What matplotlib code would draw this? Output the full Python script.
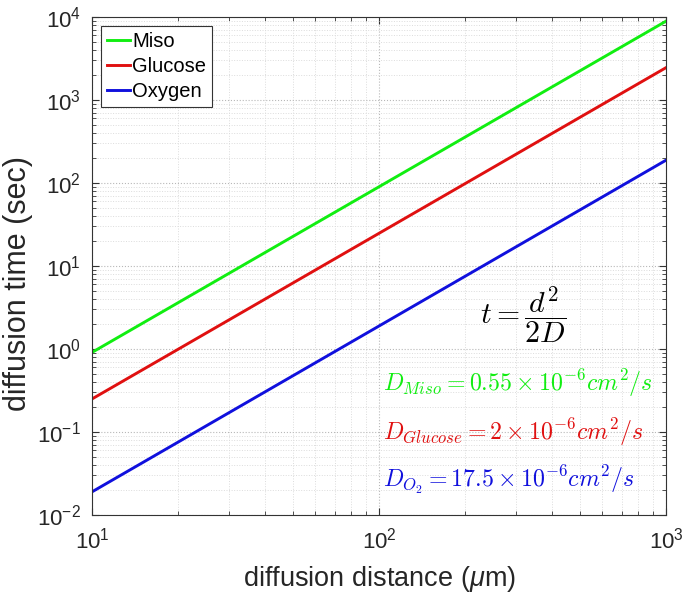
import matplotlib
matplotlib.use("Agg")
import matplotlib.pyplot as plt

distance_um = [10, 1000]
miso_t = [0.91, 8900]
glucose_t = [0.25, 2450]
oxygen_t = [0.019, 188]
series_names = ["Miso", "Glucose", "Oxygen"]
series_colors = ["#11ee11", "#e01010", "#1010dd"]
diff_labels = [r"$D_{Miso} = 0.55 \times 10^{-6} cm^2/s$",
               r"$D_{Glucose} = 2 \times 10^{-6} cm^2/s$",
               r"$D_{O_2} = 17.5 \times 10^{-6} cm^2/s$"]

plt.rcParams['font.family'] = ['Liberation Sans', 'DejaVu Sans']
plt.rcParams['mathtext.fontset'] = 'custom'
plt.rcParams['mathtext.rm'] = 'Liberation Sans'
plt.rcParams['mathtext.it'] = 'Liberation Sans:italic'

fig = plt.figure(figsize=(6.82, 5.96), dpi=100)
ax = fig.add_axes([0.135, 0.136, 0.8415, 0.8355])

for y, name, c in zip([miso_t, glucose_t, oxygen_t], series_names, series_colors):
    ax.plot(distance_um, y, color=c, lw=2.1, label=name)

ax.set_xscale('log')
ax.set_yscale('log')
ax.set_xlim(10, 1000)
ax.set_ylim(1e-2, 1e4)
ax.set_yticks([1e-2, 1e-1, 1e0, 1e1, 1e2, 1e3, 1e4])
ax.grid(True, which='major', linestyle=':', color='#b8b8b8', lw=0.8)
ax.grid(True, which='minor', linestyle=':', color='#dcdcdc', lw=0.7)
ax.tick_params(which='both', direction='in', top=True, right=True, labelsize=16,
               color='#333333', labelcolor='#262626')
ax.tick_params(axis='y', which='major', pad=8)
ax.tick_params(axis='x', which='major', pad=9)
ax.tick_params(which='major', length=5)
ax.tick_params(which='minor', length=3)
for s in ax.spines.values():
    s.set_color('#333333')

ax.set_xlabel(r"diffusion distance ($\mu$m)", fontsize=19.5, color='#262626', labelpad=8)
ax.set_ylabel("diffusion time (sec)", fontsize=22, color='#262626')
ax.yaxis.set_label_coords(-0.103, 0.465)

leg = ax.legend(loc='upper left', fontsize=14.5, handlelength=1.15, handletextpad=0.1,
                borderpad=0.3, labelspacing=0.3, fancybox=False, framealpha=1,
                edgecolor='#333333', borderaxespad=0.45)
leg.get_frame().set_linewidth(0.8)

ax.text(0.751, 0.40, r"$t = \dfrac{d^2}{2D}$", transform=ax.transAxes,
        ha='center', va='center', fontsize=21.5, math_fontfamily='cm')
for i, (lab, c) in enumerate(zip(diff_labels, series_colors)):
    ax.text(0.507, [0.265, 0.165, 0.07][i], lab, transform=ax.transAxes, ha='left',
            va='center', color=c, fontsize=17.2, math_fontfamily='cm')

fig.savefig("out.png", dpi=100)
